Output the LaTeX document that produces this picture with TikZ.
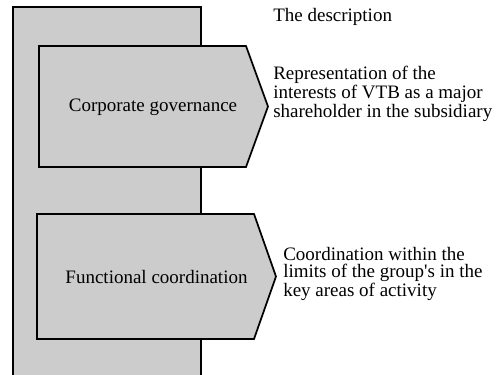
\documentclass[tikz,border=0pt]{standalone}
\usepackage{fontspec}
\setmainfont{Liberation Serif}
\definecolor{boxgray}{gray}{0.8}
\tikzset{
  box/.style={fill=boxgray, draw=black, line width=1.3pt},
  txt/.style={font=\fontsize{14.25}{12.4}\selectfont, inner sep=0pt},
  desc/.style={txt, align=left, anchor=west},
}
\begin{document}
\begin{tikzpicture}[x=0.75pt,y=-0.75pt]
  \useasboundingbox (0,0) rectangle (500,375);
  \filldraw[box] (13,380) -- (13,7) -- (201,7) -- (201,380);
  \filldraw[box] (39,46) -- (246,46) -- (268,106.5) -- (246,167) -- (39,167) -- cycle;
  \filldraw[box] (37,214) -- (254,214) -- (276,276.5) -- (254,339) -- (37,339) -- cycle;
  \node[txt] (gov) at (153,107) {Corporate governance};
  \node[txt] (coord) at (156.5,277) {Functional coordination};
  \node[desc] (head) at (273,17) {The description};
  \node[desc] (govdesc) at (273,94) {Representation of the\\interests of VTB as a major\\shareholder in the subsidiary};
  \node[desc] (coorddesc) at (283,274) {Coordination within the\\limits of the group\textquotesingle s in the\\key areas of activity};
\end{tikzpicture}
\end{document}
